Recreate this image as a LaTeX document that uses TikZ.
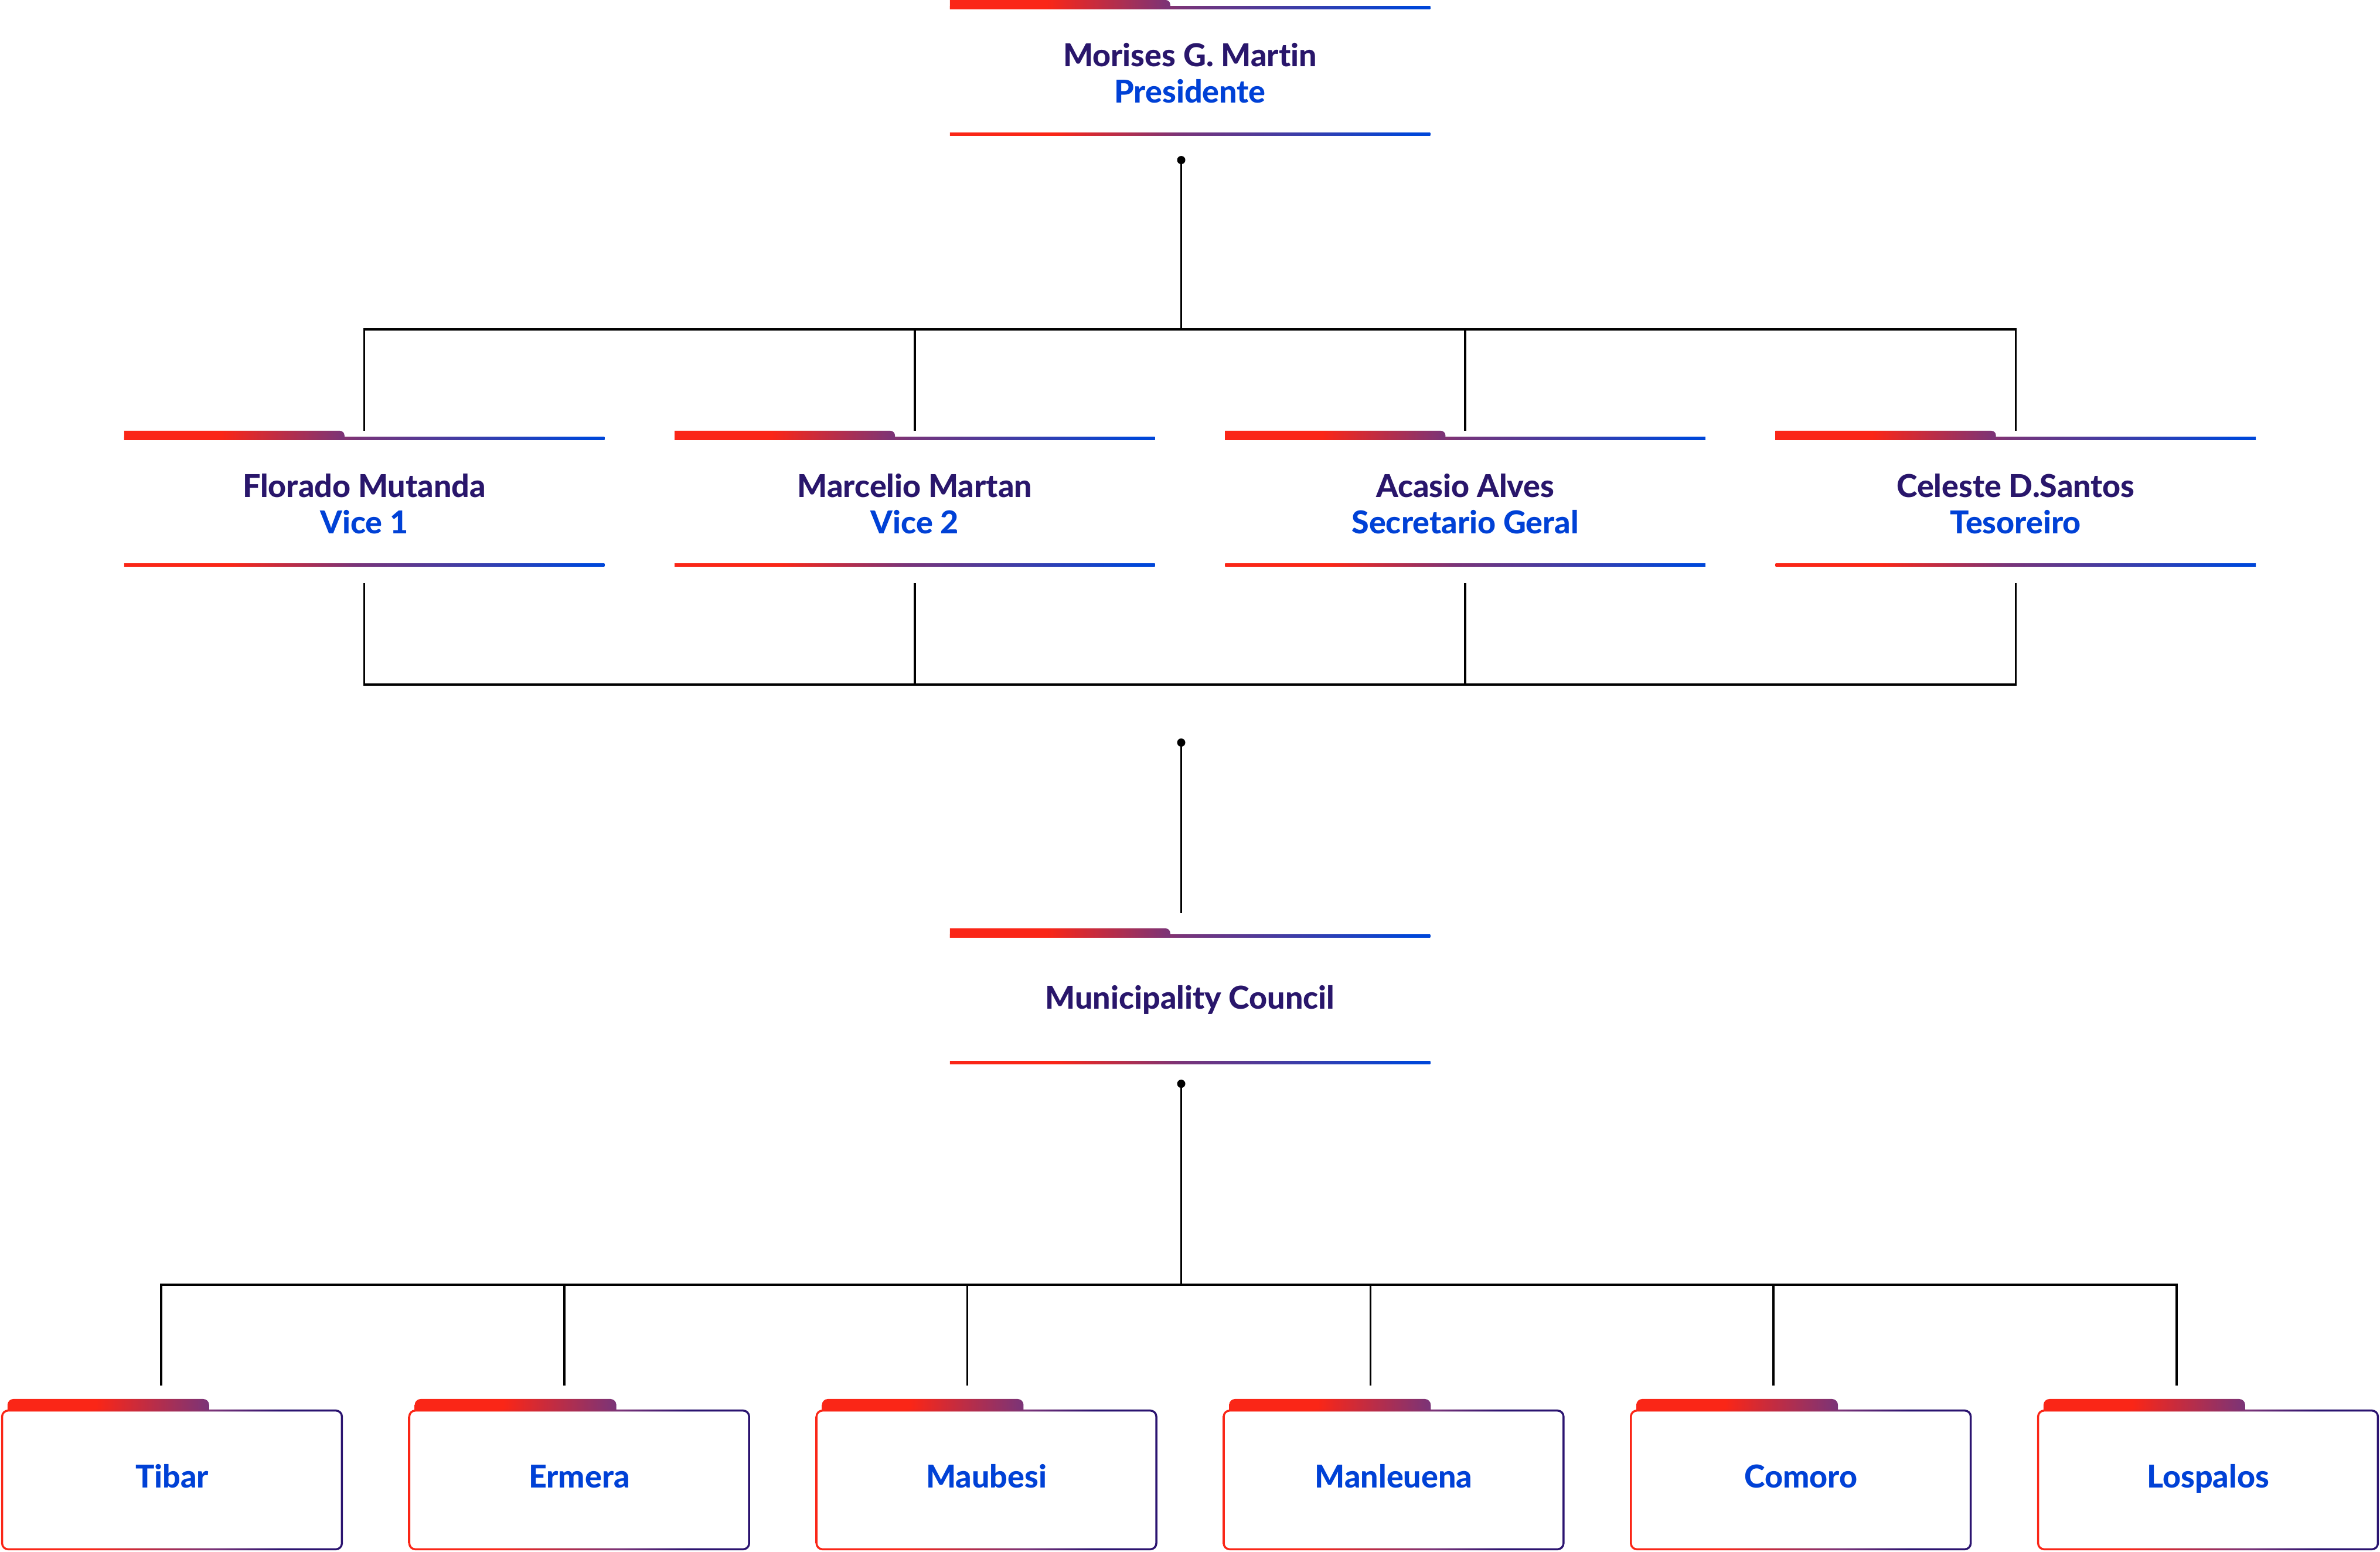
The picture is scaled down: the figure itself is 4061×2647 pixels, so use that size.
\documentclass[tikz,border=0pt]{standalone}
\usepackage{fontspec}
\setmainfont{Lato}[BoldFont={Lato Heavy}, Ligatures=NoCommon]
\usetikzlibrary{calc}

\definecolor{tabred}{HTML}{FA2617}
\definecolor{tabplum}{HTML}{7A3478}
\definecolor{lineblue}{HTML}{0046D8}
\definecolor{namenavy}{HTML}{29166B}
\definecolor{roleblue}{HTML}{0041D6}
\definecolor{edgenavy}{HTML}{2B1470}

\pgfdeclarehorizontalshading{tabfade}{100bp}{color(0bp)=(tabred); color(25bp)=(tabred); color(47bp)=(tabred); color(75bp)=(tabplum); color(100bp)=(tabplum)}
\pgfdeclarehorizontalshading{linefade}{100bp}{color(0bp)=(tabred); color(36bp)=(tabred); color(49bp)=(tabplum); color(73bp)=(lineblue); color(100bp)=(lineblue)}
\pgfdeclarehorizontalshading{edgefade}{100bp}{color(0bp)=(tabred); color(38bp)=(tabred); color(56bp)=(tabplum); color(66bp)=(edgenavy); color(100bp)=(edgenavy)}

\begin{document}
\begin{tikzpicture}[
  x=0.01cm, y=-0.01cm,
  wire/.style={line width=0.035cm, black},
  head/.style={minimum width=8.19cm, minimum height=2.31cm, inner sep=0, outer sep=0,
    font=\fontsize{15.3}{17.65}\selectfont\bfseries, text=namenavy, align=center,
    text height=34pt, text depth=0pt},
  unit/.style={head, text height=12.6pt, text depth=0pt},
  leaf/.style={minimum width=5.83cm, minimum height=2.58cm, inner sep=0, outer sep=0,
    font=\fontsize{15.3}{17.65}\selectfont\bfseries, text=roleblue,
    text height=12.6pt, text depth=0pt}]

  \useasboundingbox (0,0) rectangle (4061,2647);

  % board
  \node[head] (pres) at (2030.5,115.5) {Morises G. Martin\\\textcolor{roleblue}{Presidente}};
  \node[head] (vice1) at (621.5,850.5) {Florado Mutanda\\\textcolor{roleblue}{Vice 1}};
  \node[head] (vice2) at (1560.8,850.5) {Marcelio Martan\\\textcolor{roleblue}{Vice 2}};
  \node[head] (sec) at (2500.1,850.5) {Acasio Alves\\\textcolor{roleblue}{Secretario Geral}};
  \node[head] (treas) at (3439.4,850.5) {Celeste D.Santos\\\textcolor{roleblue}{Tesoreiro}};
  \node[unit] (council) at (2030.5,1699.5) {Municipality Council};

  % municipalities
  \node[leaf] (tibar) at (293.5,2516) {Tibar};
  \node[leaf] (ermera) at (988.3,2516) {Ermera};
  \node[leaf] (maubesi) at (1683.1,2516) {Maubesi};
  \node[leaf] (manleuena) at (2377.9,2516) {Manleuena};
  \node[leaf] (comoro) at (3072.7,2516) {Comoro};
  \node[leaf] (lospalos) at (3767.5,2516) {Lospalos};

  % tabs and rules
  \foreach \n in {pres,vice1,vice2,sec,treas,council} {
    \shade[shading=linefade] ($(\n.north west)+(0,11)$) rectangle ($(\n.north east)+(0,16)$);
    \shade[shading=linefade] ($(\n.south west)+(0,-5)$) rectangle (\n.south east);
    \shade[shading=tabfade] ($(\n.north west)+(0,16)$) -- (\n.north west) -- ++(368,0)
      arc[start angle=-90, end angle=0, radius=8] -- ++(0,8) -- cycle;
  }
  \foreach \n in {tibar,ermera,maubesi,manleuena,comoro,lospalos} {
    \shade[shading=tabfade] ($(\n.north west)+(11,20)$) -- ++(0,-10)
      arc[start angle=180, end angle=270, radius=10] -- ++(324,0)
      arc[start angle=-90, end angle=0, radius=10] -- ++(0,10) -- cycle;
    \shade[shading=edgefade, even odd rule, rounded corners=0.12cm]
      ($(\n.north west)+(0,18)$) rectangle (\n.south east)
      [rounded corners=0.085cm] ($(\n.north west)+(3.5,21.5)$) rectangle ($(\n.south east)+(-3.5,-3.5)$);
  }

  % president to board
  \coordinate (top-dot) at ($(pres.south)+(-15,42)$);
  \coordinate (top-bus) at ($(pres.south)+(-15,331)$);
  \draw[wire] (top-dot) -- (top-bus);
  \draw[wire] (top-bus) -| (vice1.north);
  \draw[wire] (top-bus) -| (vice2.north);
  \draw[wire] (top-bus) -| (sec.north);
  \draw[wire] (top-bus) -| (treas.north);
  \fill (top-dot) circle[radius=7];

  % board joined below
  \draw[wire] ($(vice1.south)+(0,29)$) |- ($(treas.south)+(0,202)$) -- ($(treas.south)+(0,29)$);
  \draw[wire] ($(vice2.south)+(0,29)$) -- ++(0,173);
  \draw[wire] ($(sec.south)+(0,29)$) -- ++(0,173);

  % to council
  \coordinate (mid-dot) at ($(council.north)+(-15,-317)$);
  \coordinate (mid-end) at ($(council.north)+(-15,-26)$);
  \draw[wire] (mid-dot) -- (mid-end);
  \fill (mid-dot) circle[radius=7];

  % council to municipalities
  \coordinate (low-dot) at ($(council.south)+(-15,34)$);
  \coordinate (low-bus) at ($(council.south)+(-15,377)$);
  \coordinate (drop1) at ($(tibar.north)+(-18.5,-23)$);
  \coordinate (drop2) at ($(ermera.north)+(-25.5,-23)$);
  \coordinate (drop3) at ($(maubesi.north)+(-32.5,-23)$);
  \coordinate (drop4) at ($(manleuena.north)+(-39.5,-23)$);
  \coordinate (drop5) at ($(comoro.north)+(-46.5,-23)$);
  \coordinate (drop6) at ($(lospalos.north)+(-53.5,-23)$);
  \draw[wire] (low-dot) -- (low-bus);
  \draw[wire] (low-bus) -| (drop1);
  \draw[wire] (low-bus) -| (drop2);
  \draw[wire] (low-bus) -| (drop3);
  \draw[wire] (low-bus) -| (drop4);
  \draw[wire] (low-bus) -| (drop5);
  \draw[wire] (low-bus) -| (drop6);
  \fill (low-dot) circle[radius=7];
\end{tikzpicture}
\end{document}
